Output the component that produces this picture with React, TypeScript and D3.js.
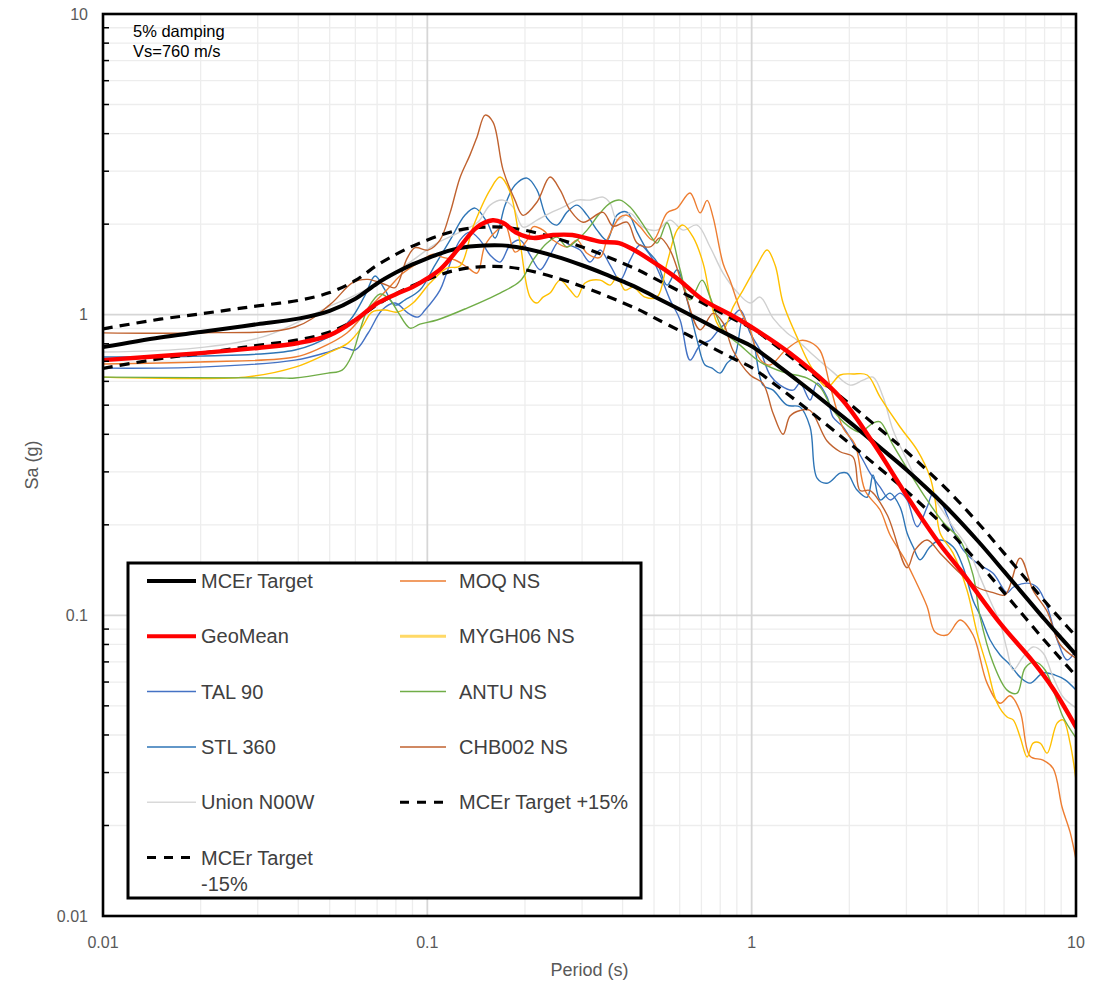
import React from 'react';
import * as d3 from 'd3';

type Pt = [number, number];

// Axis decades (period in s, spectral acceleration in g)
const periodTicks = [0.01, 0.1, 1, 10];
const saTicks = [0.01, 0.1, 1, 10];

// MCEr target spectrum [T (s), Sa (g)]
const mcerTarget: Pt[] = [
  [0.01, 0.78], [0.015, 0.84], [0.02, 0.875], [0.025, 0.905], [0.03, 0.93], [0.04, 0.97],
  [0.05, 1.03], [0.06, 1.13], [0.07, 1.27], [0.08, 1.38], [0.09, 1.47], [0.1, 1.54],
  [0.11, 1.6], [0.12, 1.645], [0.135, 1.685], [0.15, 1.7], [0.17, 1.7], [0.2, 1.66],
  [0.25, 1.56], [0.3, 1.46], [0.35, 1.37], [0.4, 1.29], [0.45, 1.22], [0.5, 1.15],
  [0.6, 1.04], [0.7, 0.955], [0.8, 0.885], [0.9, 0.83], [1.0, 0.785], [1.2, 0.68],
  [1.5, 0.565], [2.0, 0.44], [2.5, 0.36], [3, 0.305], [4, 0.228], [5, 0.176], [6, 0.14],
  [7, 0.115], [8, 0.097], [9, 0.084], [10, 0.074],
];

// Tolerance band around the target
const bandUpper = 1.15;
const bandLower = 0.85;

// Geometric mean of the scaled records
const geoMean: Pt[] = [
  [0.01, 0.706], [0.02, 0.745], [0.03, 0.775], [0.04, 0.805], [0.05, 0.855], [0.06, 0.96],
  [0.07, 1.09], [0.08, 1.17], [0.09, 1.235], [0.1, 1.32], [0.11, 1.42], [0.126, 1.68],
  [0.142, 1.95], [0.159, 2.06], [0.171, 2.02], [0.189, 1.87], [0.212, 1.8], [0.244, 1.84],
  [0.28, 1.84], [0.34, 1.75], [0.39, 1.73], [0.43, 1.65], [0.52, 1.45], [0.6, 1.3],
  [0.7, 1.13], [0.92, 0.96], [1.31, 0.745], [1.87, 0.532], [2.37, 0.374], [3.08, 0.24],
  [3.81, 0.172], [4.39, 0.142], [5.84, 0.094], [7.38, 0.07], [8.5, 0.057], [10, 0.0425],
];

const tal90: Pt[] = [
  [0.01, 0.664], [0.0199, 0.669], [0.0391, 0.706], [0.0494, 0.751], [0.0546, 0.78], [0.0599, 0.763],
  [0.0657, 0.869], [0.0725, 1.036], [0.0795, 1.093], [0.0872, 1.012], [0.0936, 0.982], [0.0984, 1.036],
  [0.1094, 1.207], [0.115, 1.386], [0.1261, 1.77], [0.1354, 1.882], [0.1454, 1.77], [0.1561, 1.578],
  [0.1676, 1.496], [0.1799, 1.704], [0.1932, 1.77], [0.2074, 1.578], [0.2227, 1.41], [0.2389, 1.578],
  [0.2566, 1.77], [0.2754, 1.704], [0.2957, 1.64], [0.3175, 1.496], [0.3408, 1.64], [0.366, 1.462],
  [0.3927, 1.303], [0.4217, 1.519], [0.4527, 1.704], [0.486, 1.578], [0.522, 1.354], [0.5603, 1.12],
  [0.6017, 0.96], [0.6457, 0.706], [0.6934, 0.792], [0.7444, 0.823], [0.7992, 0.902], [0.8579, 0.96],
  [0.921, 1.036], [0.989, 0.869], [1.061, 0.763], [1.139, 0.63], [1.223, 0.583], [1.342, 0.561],
  [1.41, 0.592], [1.514, 0.52], [1.591, 0.592], [1.708, 0.532], [1.782, 0.456], [1.913, 0.423],
  [2.055, 0.374], [2.205, 0.328], [2.318, 0.297], [2.489, 0.267], [2.672, 0.242], [2.868, 0.255],
  [3.014, 0.242], [3.236, 0.197], [3.474, 0.229], [3.625, 0.255], [3.81, 0.242], [4.178, 0.192],
  [4.486, 0.165], [4.955, 0.149], [5.551, 0.138], [6.131, 0.119], [6.4, 0.124], [7.067, 0.128],
  [7.587, 0.124], [8.145, 0.107], [8.744, 0.083], [9.389, 0.071], [10, 0.0767],
];

const stl360: Pt[] = [
  [0.01, 0.723], [0.0199, 0.728], [0.0391, 0.763], [0.0501, 0.849], [0.0578, 0.96], [0.0643, 1.162],
  [0.069, 1.344], [0.0741, 1.207], [0.0795, 1.076], [0.0854, 1.12], [0.0949, 1.207], [0.1056, 1.462],
  [0.1175, 1.77], [0.1307, 2.144], [0.1403, 2.262], [0.1528, 2.032], [0.1618, 1.798], [0.1737, 2.314],
  [0.1864, 2.698], [0.203, 2.846], [0.2179, 2.597], [0.2339, 2.095], [0.2511, 1.986], [0.2697, 2.194],
  [0.2895, 2.314], [0.3108, 2.144], [0.3337, 1.911], [0.3581, 1.77], [0.3846, 2.144], [0.4127, 2.194],
  [0.4434, 1.882], [0.476, 1.64], [0.5108, 1.496], [0.5483, 1.254], [0.5888, 1.41], [0.6321, 1.12],
  [0.6788, 0.823], [0.7181, 0.68], [0.7551, 0.664], [0.7992, 0.639], [0.8397, 0.69], [0.8889, 0.734],
  [0.9408, 0.974], [1.01, 0.823], [1.084, 0.583], [1.164, 0.561], [1.286, 0.5], [1.41, 0.493],
  [1.514, 0.423], [1.591, 0.286], [1.708, 0.275], [1.874, 0.297], [1.969, 0.297], [2.113, 0.261],
  [2.27, 0.247], [2.367, 0.293], [2.489, 0.242], [2.672, 0.255], [2.868, 0.229], [3.014, 0.188],
  [3.146, 0.169], [3.306, 0.153], [3.549, 0.169], [3.81, 0.178], [4.178, 0.169], [4.486, 0.1447],
  [4.816, 0.112], [5.061, 0.1002], [5.435, 0.0828], [5.834, 0.0738], [6.266, 0.0684], [6.724, 0.0623],
  [7.219, 0.0595], [7.915, 0.0643], [8.621, 0.0633], [9.256, 0.061], [10, 0.0564],
];

const unionN00W: Pt[] = [
  [0.01, 0.751], [0.0192, 0.774], [0.0309, 0.842], [0.0411, 0.96], [0.0494, 1.06], [0.0599, 1.162],
  [0.0715, 1.284], [0.0885, 1.496], [0.1071, 1.73], [0.1261, 1.882], [0.1433, 2.032], [0.1561, 2.314],
  [0.1713, 2.405], [0.1838, 2.279], [0.1973, 1.956], [0.2179, 2.063], [0.2389, 2.177], [0.2622, 2.279],
  [0.2895, 2.405], [0.3175, 2.405], [0.3483, 2.461], [0.366, 2.35], [0.3846, 2.063], [0.4217, 2.177],
  [0.4626, 1.956], [0.5108, 1.911], [0.5603, 2.063], [0.6144, 1.911], [0.6788, 1.986], [0.7444, 1.679],
  [0.8162, 1.375], [0.9016, 1.189], [0.989, 1.093], [1.061, 1.144], [1.164, 0.974], [1.286, 0.869],
  [1.38, 0.823], [1.547, 0.734], [1.782, 0.644], [2.012, 0.583], [2.205, 0.606], [2.367, 0.62],
  [2.543, 0.532], [2.729, 0.413], [3.014, 0.328], [3.236, 0.282], [3.474, 0.267], [3.81, 0.229],
  [4.178, 0.197], [4.616, 0.169], [5.061, 0.134], [5.435, 0.112], [5.834, 0.0943], [6.131, 0.0767],
  [6.4, 0.0658], [6.867, 0.0727], [7.374, 0.0785], [7.915, 0.0749], [8.5, 0.0623], [9.124, 0.0535],
  [10, 0.0492],
];

const moqNS: Pt[] = [
  [0.01, 0.685], [0.0199, 0.696], [0.0391, 0.723], [0.0467, 0.774], [0.0565, 0.869], [0.0666, 1.06],
  [0.0751, 1.21], [0.0842, 1.375], [0.0949, 1.5], [0.1041, 1.59], [0.1118, 1.55], [0.1217, 1.52],
  [0.1326, 1.44], [0.1424, 1.375], [0.1506, 1.7], [0.164, 1.91], [0.1737, 1.99], [0.1864, 1.615],
  [0.203, 1.77], [0.2118, 1.96], [0.2274, 1.91], [0.2442, 1.77], [0.2697, 1.68], [0.2895, 1.77],
  [0.3108, 1.6], [0.3408, 1.55], [0.3581, 1.77], [0.3927, 2.11], [0.4127, 2.14], [0.4527, 1.96],
  [0.4966, 1.77], [0.5483, 2.18], [0.5888, 2.26], [0.6457, 2.54], [0.6934, 2.18], [0.7288, 2.4],
  [0.7603, 2.11], [0.8162, 1.48], [0.8579, 1.3], [0.921, 1.04], [0.989, 0.89], [1.061, 0.71],
  [1.139, 0.68], [1.268, 0.76], [1.41, 0.82], [1.514, 0.81], [1.625, 0.76], [1.745, 0.58],
  [1.913, 0.42], [2.084, 0.37], [2.237, 0.26], [2.489, 0.224], [2.672, 0.185], [2.972, 0.153],
  [3.191, 0.131], [3.474, 0.107], [3.677, 0.088], [4.004, 0.086], [4.391, 0.0965], [4.816, 0.086],
  [5.319, 0.0595], [5.834, 0.051], [6.266, 0.054], [6.724, 0.048], [7.219, 0.034], [7.915, 0.033],
  [8.5, 0.031], [9.06, 0.023], [9.59, 0.019], [10, 0.0154],
];

const mygh06NS: Pt[] = [
  [0.01, 0.62], [0.0274, 0.62], [0.0391, 0.669], [0.0494, 0.745], [0.0569, 0.804], [0.0629, 0.909],
  [0.0675, 1.02], [0.0741, 1.036], [0.0807, 1.02], [0.0903, 1.093], [0.1019, 1.274], [0.115, 1.429],
  [0.1261, 1.451], [0.1383, 1.956], [0.1561, 2.6], [0.1676, 2.87], [0.1799, 2.56], [0.1932, 1.73],
  [0.2074, 1.144], [0.2179, 1.093], [0.2274, 1.144], [0.2389, 1.18], [0.2566, 1.303], [0.2754, 1.207],
  [0.2895, 1.144], [0.3064, 1.274], [0.3408, 1.303], [0.366, 1.254], [0.3846, 1.334], [0.407, 1.207],
  [0.4309, 1.235], [0.469, 1.144], [0.5108, 1.144], [0.5483, 1.484], [0.5888, 1.911], [0.6144, 1.986],
  [0.6598, 1.811], [0.7083, 1.484], [0.7444, 1.144], [0.7821, 0.937], [0.8162, 0.889], [0.8762, 1.06],
  [0.9408, 1.207], [1.039, 1.462], [1.116, 1.64], [1.181, 1.462], [1.25, 1.093], [1.38, 0.842],
  [1.514, 0.68], [1.708, 0.574], [1.874, 0.63], [2.055, 0.635], [2.27, 0.63], [2.489, 0.532],
  [2.868, 0.423], [3.236, 0.355], [3.549, 0.288], [3.677, 0.242], [3.81, 0.188], [4.178, 0.161],
  [4.616, 0.121], [4.955, 0.0873], [5.319, 0.0673], [5.711, 0.0511], [6.131, 0.0459], [6.4, 0.0449],
  [6.724, 0.0394], [7.067, 0.0338], [7.374, 0.0376], [7.75, 0.0376], [8.145, 0.0348], [8.744, 0.0438],
  [9.124, 0.0449], [9.59, 0.0376], [10, 0.0283],
];

const antuNS: Pt[] = [
  [0.01, 0.62], [0.0351, 0.6155], [0.0391, 0.6155], [0.0494, 0.639], [0.0546, 0.654], [0.0586, 0.734],
  [0.062, 0.889], [0.0657, 1.052], [0.0715, 1.171], [0.0767, 1.12], [0.0812, 1.02], [0.0885, 0.902],
  [0.0949, 0.93], [0.1071, 0.96], [0.1326, 1.052], [0.1676, 1.18], [0.1932, 1.293], [0.2118, 1.519],
  [0.2339, 1.73], [0.2511, 1.811], [0.2697, 1.679], [0.2895, 1.77], [0.3108, 1.911], [0.3408, 2.177],
  [0.366, 2.35], [0.3927, 2.405], [0.4217, 2.279], [0.4527, 2.063], [0.486, 1.839], [0.5108, 1.73],
  [0.5483, 2.022], [0.5726, 1.77], [0.6017, 1.41], [0.6457, 1.12], [0.7034, 1.303], [0.7444, 1.144],
  [0.8162, 0.889], [0.921, 0.792], [1.061, 0.696], [1.25, 0.644], [1.482, 0.6155], [1.625, 0.574],
  [1.782, 0.482], [1.969, 0.429], [2.159, 0.407], [2.367, 0.436], [2.489, 0.44], [2.729, 0.368],
  [3.078, 0.297], [3.474, 0.242], [3.892, 0.204], [4.391, 0.178], [4.816, 0.136], [5.061, 0.0988],
  [5.551, 0.0694], [6.131, 0.0564], [6.582, 0.0551], [6.966, 0.0668], [7.479, 0.07], [8.03, 0.0658],
  [8.621, 0.0543], [9.124, 0.0459], [10, 0.0391],
];

const chb002NS: Pt[] = [
  [0.01, 0.87], [0.0192, 0.87], [0.0391, 0.91], [0.0501, 1.08], [0.059, 1.28], [0.0656, 1.31],
  [0.0741, 1.26], [0.0795, 1.23], [0.0866, 1.54], [0.0917, 1.67], [0.1005, 1.64], [0.1094, 1.77],
  [0.1175, 2.18], [0.126, 2.85], [0.1354, 3.4], [0.1423, 3.9], [0.1507, 4.61], [0.1594, 4.37],
  [0.1712, 3.03], [0.1864, 2.4], [0.1973, 2.14], [0.2179, 2.37], [0.239, 2.87], [0.2566, 2.6],
  [0.2754, 2.23], [0.302, 2.03], [0.348, 2.19], [0.3738, 1.97], [0.413, 2.03], [0.4434, 1.73],
  [0.4863, 1.68], [0.522, 1.8], [0.5603, 1.64], [0.6144, 1.24], [0.6934, 0.89], [0.7603, 1.01],
  [0.816, 0.94], [0.876, 0.76], [0.989, 0.63], [1.084, 0.59], [1.164, 0.47], [1.25, 0.4],
  [1.313, 0.46], [1.41, 0.48], [1.514, 0.48], [1.708, 0.38], [1.874, 0.35], [2.055, 0.336],
  [2.159, 0.26], [2.318, 0.26], [2.616, 0.216], [3.015, 0.144], [3.19, 0.165], [3.474, 0.178],
  [3.81, 0.161], [4.39, 0.138], [4.955, 0.124], [5.553, 0.119], [6.047, 0.117], [6.725, 0.155],
  [7.375, 0.121], [8.147, 0.103], [8.93, 0.08], [10, 0.072],
];

const recordNames = ['TAL 90', 'STL 360', 'Union N00W', 'MOQ NS', 'MYGH06 NS', 'ANTU NS', 'CHB002 NS'];
const recordColors = ['#4472C4', '#2E75B6', '#D0D0D0', '#ED7D31', '#FFC000', '#70AD47', '#C0622F'];
const recordData = [tal90, stl360, unionN00W, moqNS, mygh06NS, antuNS, chb002NS];

const FONT = '"Liberation Sans", Arial, Helvetica, sans-serif';
const W = 1094;
const H = 988;
const plot = { left: 103, right: 1076, top: 14, bottom: 916 };

type LegendItem = { label: string[]; color: string; width: number; dash?: string };

export default function App() {
  const x = d3.scaleLog().domain([0.01, 10]).range([plot.left, plot.right]);
  const y = d3.scaleLog().domain([0.01, 10]).range([plot.bottom, plot.top]);
  const line = d3
    .line<Pt>()
    .x((d) => x(d[0]))
    .y((d) => y(d[1]))
    .curve(d3.curveCatmullRom.alpha(0.5));

  const upper: Pt[] = mcerTarget.map(([t, s]) => [t, s * bandUpper]);
  const lower: Pt[] = mcerTarget.map(([t, s]) => [t, s * bandLower]);

  const minorVals: number[] = [];
  [0.01, 0.1, 1].forEach((dec) => {
    for (let m = 2; m <= 9; m++) minorVals.push(m * dec);
  });

  const legendCol1: LegendItem[] = [
    { label: ['MCEr Target'], color: '#000', width: 4 },
    { label: ['GeoMean'], color: '#FF0000', width: 4 },
    { label: [recordNames[0]], color: recordColors[0], width: 1.5 },
    { label: [recordNames[1]], color: recordColors[1], width: 1.5 },
    { label: [recordNames[2]], color: '#D9D9D9', width: 1.5 },
    { label: ['MCEr Target', '-15%'], color: '#000', width: 3, dash: '9,8' },
  ];
  const legendCol2: LegendItem[] = [
    { label: [recordNames[3]], color: recordColors[3], width: 1.5 },
    { label: [recordNames[4]], color: '#FFD966', width: 3 },
    { label: [recordNames[5]], color: recordColors[5], width: 1.5 },
    { label: [recordNames[6]], color: recordColors[6], width: 1.5 },
    { label: ['MCEr Target +15%'], color: '#000', width: 3, dash: '9,8' },
  ];
  const legend = { x: 128, y: 563, w: 513, h: 335, row0: 581, rowStep: 55.3 };

  const renderLegendItem = (it: LegendItem, i: number, lx0: number, lx1: number, tx: number) => {
    const ry = legend.row0 + i * legend.rowStep;
    return (
      <g key={it.label.join(' ') + i + lx0}>
        <line x1={lx0} x2={lx1} y1={ry} y2={ry} stroke={it.color} strokeWidth={it.width} strokeDasharray={it.dash} />
        {it.label.map((l, j) => (
          <text key={j} x={tx} y={ry + j * 26} dy="0.35em" fontSize={20} fill="#404040" fontFamily={FONT}>
            {l}
          </text>
        ))}
      </g>
    );
  };

  return (
    <svg width={W} height={H} style={{ position: 'absolute', left: 0, top: 0, background: '#fff' }}>
      <defs>
        <clipPath id="plotClip">
          <rect x={plot.left} y={plot.top} width={plot.right - plot.left} height={plot.bottom - plot.top} />
        </clipPath>
      </defs>
      <rect x={0} y={0} width={W} height={H} fill="#fff" />

      {/* minor grid */}
      {minorVals.map((v) => (
        <g key={'mg' + v}>
          <line x1={x(v)} x2={x(v)} y1={plot.top} y2={plot.bottom} stroke="#EDEDED" strokeWidth={1.3} />
          <line x1={plot.left} x2={plot.right} y1={y(v)} y2={y(v)} stroke="#EDEDED" strokeWidth={1.3} />
        </g>
      ))}
      {/* major grid */}
      {periodTicks.map((v) => (
        <line key={'vx' + v} x1={x(v)} x2={x(v)} y1={plot.top} y2={plot.bottom} stroke="#D6D6D6" strokeWidth={1.8} />
      ))}
      {saTicks.map((v) => (
        <line key={'hy' + v} x1={plot.left} x2={plot.right} y1={y(v)} y2={y(v)} stroke="#D6D6D6" strokeWidth={1.8} />
      ))}

      <g clipPath="url(#plotClip)" fill="none" strokeLinejoin="round" strokeLinecap="round">
        {recordData.map((d, i) => (
          <path key={recordNames[i]} d={line(d) || ''} stroke={recordColors[i]} strokeWidth={1.4} />
        ))}
        <path d={line(mcerTarget) || ''} stroke="#000" strokeWidth={4} />
        <path d={line(upper) || ''} stroke="#000" strokeWidth={3.2} strokeDasharray="10,7" strokeLinecap="butt" />
        <path d={line(lower) || ''} stroke="#000" strokeWidth={3.2} strokeDasharray="10,7" strokeLinecap="butt" />
        <path d={line(geoMean) || ''} stroke="#FF0000" strokeWidth={4.4} />
      </g>

      {/* y minor ticks */}
      {minorVals.map((v) => (
        <line key={'yt' + v} x1={plot.left} x2={plot.left + 6} y1={y(v)} y2={y(v)} stroke="#000" strokeWidth={1.5} />
      ))}

      {/* frame */}
      <rect
        x={plot.left}
        y={plot.top}
        width={plot.right - plot.left}
        height={plot.bottom - plot.top}
        fill="none"
        stroke="#000"
        strokeWidth={2.6}
      />

      {/* tick labels */}
      {saTicks.map((v) => (
        <text key={'yl' + v} x={88} y={y(v)} dy="0.35em" textAnchor="end" fontSize={16} fill="#595959" fontFamily={FONT}>
          {d3.format('~g')(v)}
        </text>
      ))}
      {periodTicks.map((v) => (
        <text key={'xl' + v} x={x(v)} y={942} dy="0.35em" textAnchor="middle" fontSize={16} fill="#595959" fontFamily={FONT}>
          {d3.format('~g')(v)}
        </text>
      ))}

      {/* axis titles */}
      <text x={(plot.left + plot.right) / 2} y={970} dy="0.35em" textAnchor="middle" fontSize={18} fill="#595959" fontFamily={FONT}>
        Period (s)
      </text>
      <text
        transform={`translate(32,${(plot.top + plot.bottom) / 2}) rotate(-90)`}
        dy="0.35em"
        textAnchor="middle"
        fontSize={18}
        fill="#595959"
        fontFamily={FONT}
      >
        Sa (g)
      </text>

      {/* annotation */}
      <text x={133} y={37} fontSize={16.5} fill="#000" fontFamily={FONT}>5% damping</text>
      <text x={133} y={57} fontSize={16.5} fill="#000" fontFamily={FONT}>Vs=760 m/s</text>

      {/* legend */}
      <rect x={legend.x} y={legend.y} width={legend.w} height={legend.h} fill="#fff" stroke="#000" strokeWidth={3} />
      {legendCol1.map((it, i) => renderLegendItem(it, i, 147, 196, 201))}
      {legendCol2.map((it, i) => renderLegendItem(it, i, 400, 446, 459))}
    </svg>
  );
}
